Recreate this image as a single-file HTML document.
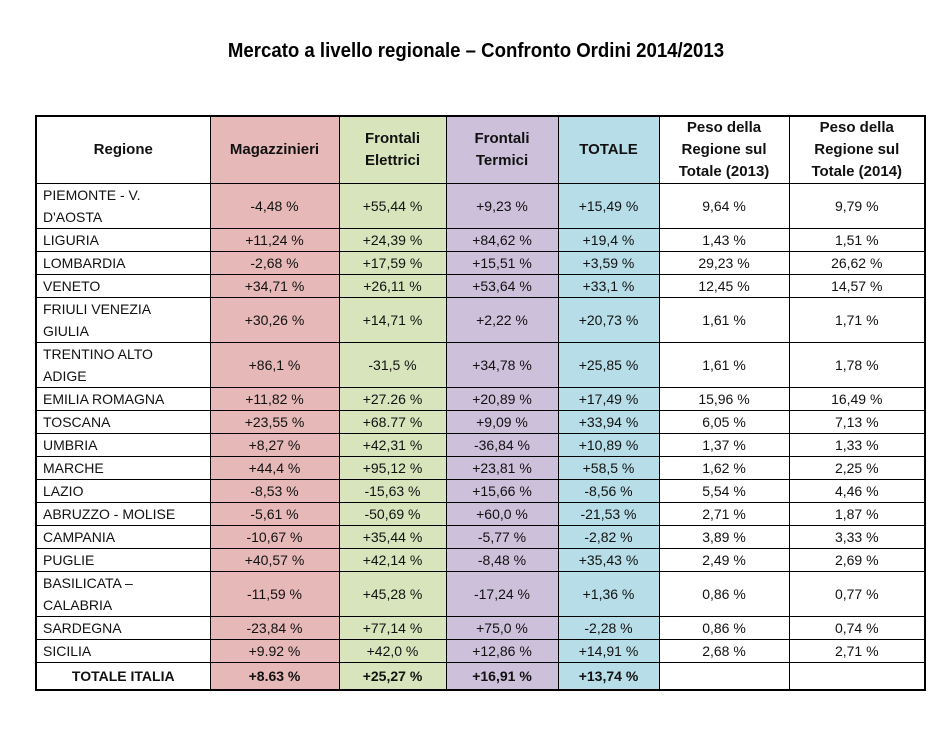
<!DOCTYPE html>
<html><head><meta charset="utf-8"><style>
body{margin:0;background:#fff;width:952px;height:730px;position:relative;font-family:"Liberation Sans",sans-serif;}
h1{position:absolute;top:40px;left:0;width:952px;text-align:center;margin:0;font-size:20px;font-weight:bold;transform:scaleX(0.93);}
table{position:absolute;left:35px;top:115px;border-collapse:collapse;table-layout:fixed;border:2px solid #000;}
td{border:1px solid #000;padding:0;text-align:center;font-size:14px;line-height:22px;color:#111;}
td:first-child{text-align:left;padding-left:6px;}
.h td{font-weight:bold;font-size:15px;}
.h td:first-child{text-align:center;padding-left:0}
.t td{font-weight:bold;}
.t td:first-child{text-align:center;padding-left:0}
td:nth-child(2){background:#e6b8b7}
td:nth-child(3){background:#d8e4bc}
td:nth-child(4){background:#ccc0da}
td:nth-child(5){background:#b7dee8}
tr{height:23px}
tr.d{height:45px}
tr.h{height:67px}
tr.t{height:27px}
</style></head><body>
<h1>Mercato a livello regionale – Confronto Ordini 2014/2013</h1>
<table>
<colgroup><col style="width:174px"><col style="width:129px"><col style="width:107px"><col style="width:112px"><col style="width:101px"><col style="width:130px"><col style="width:136px"></colgroup>
<tr class="h"><td>Regione</td><td>Magazzinieri</td><td>Frontali<br>Elettrici</td><td>Frontali<br>Termici</td><td>TOTALE</td><td>Peso della<br>Regione sul<br>Totale (2013)</td><td>Peso della<br>Regione sul<br>Totale (2014)</td></tr>
<tr class="d"><td>PIEMONTE - V.<br>D'AOSTA</td><td>-4,48 %</td><td>+55,44 %</td><td>+9,23 %</td><td>+15,49 %</td><td>9,64 %</td><td>9,79 %</td></tr>
<tr><td>LIGURIA</td><td>+11,24 %</td><td>+24,39 %</td><td>+84,62 %</td><td>+19,4 %</td><td>1,43 %</td><td>1,51 %</td></tr>
<tr><td>LOMBARDIA</td><td>-2,68 %</td><td>+17,59 %</td><td>+15,51 %</td><td>+3,59 %</td><td>29,23 %</td><td>26,62 %</td></tr>
<tr><td>VENETO</td><td>+34,71 %</td><td>+26,11 %</td><td>+53,64 %</td><td>+33,1 %</td><td>12,45 %</td><td>14,57 %</td></tr>
<tr class="d"><td>FRIULI VENEZIA<br>GIULIA</td><td>+30,26 %</td><td>+14,71 %</td><td>+2,22 %</td><td>+20,73 %</td><td>1,61 %</td><td>1,71 %</td></tr>
<tr class="d"><td>TRENTINO ALTO<br>ADIGE</td><td>+86,1 %</td><td>-31,5 %</td><td>+34,78 %</td><td>+25,85 %</td><td>1,61 %</td><td>1,78 %</td></tr>
<tr><td>EMILIA ROMAGNA</td><td>+11,82 %</td><td>+27.26 %</td><td>+20,89 %</td><td>+17,49 %</td><td>15,96 %</td><td>16,49 %</td></tr>
<tr><td>TOSCANA</td><td>+23,55 %</td><td>+68.77 %</td><td>+9,09 %</td><td>+33,94 %</td><td>6,05 %</td><td>7,13 %</td></tr>
<tr><td>UMBRIA</td><td>+8,27 %</td><td>+42,31 %</td><td>-36,84 %</td><td>+10,89 %</td><td>1,37 %</td><td>1,33 %</td></tr>
<tr><td>MARCHE</td><td>+44,4 %</td><td>+95,12 %</td><td>+23,81 %</td><td>+58,5 %</td><td>1,62 %</td><td>2,25 %</td></tr>
<tr><td>LAZIO</td><td>-8,53 %</td><td>-15,63 %</td><td>+15,66 %</td><td>-8,56 %</td><td>5,54 %</td><td>4,46 %</td></tr>
<tr><td>ABRUZZO - MOLISE</td><td>-5,61 %</td><td>-50,69 %</td><td>+60,0 %</td><td>-21,53 %</td><td>2,71 %</td><td>1,87 %</td></tr>
<tr><td>CAMPANIA</td><td>-10,67 %</td><td>+35,44 %</td><td>-5,77 %</td><td>-2,82 %</td><td>3,89 %</td><td>3,33 %</td></tr>
<tr><td>PUGLIE</td><td>+40,57 %</td><td>+42,14 %</td><td>-8,48 %</td><td>+35,43 %</td><td>2,49 %</td><td>2,69 %</td></tr>
<tr class="d"><td>BASILICATA –<br>CALABRIA</td><td>-11,59 %</td><td>+45,28 %</td><td>-17,24 %</td><td>+1,36 %</td><td>0,86 %</td><td>0,77 %</td></tr>
<tr><td>SARDEGNA</td><td>-23,84 %</td><td>+77,14 %</td><td>+75,0 %</td><td>-2,28 %</td><td>0,86 %</td><td>0,74 %</td></tr>
<tr><td>SICILIA</td><td>+9.92 %</td><td>+42,0 %</td><td>+12,86 %</td><td>+14,91 %</td><td>2,68 %</td><td>2,71 %</td></tr>
<tr class="t"><td>TOTALE ITALIA</td><td>+8.63 %</td><td>+25,27 %</td><td>+16,91 %</td><td>+13,74 %</td><td style="background:#fff"></td><td style="background:#fff"></td></tr>
</table>
</body></html>
